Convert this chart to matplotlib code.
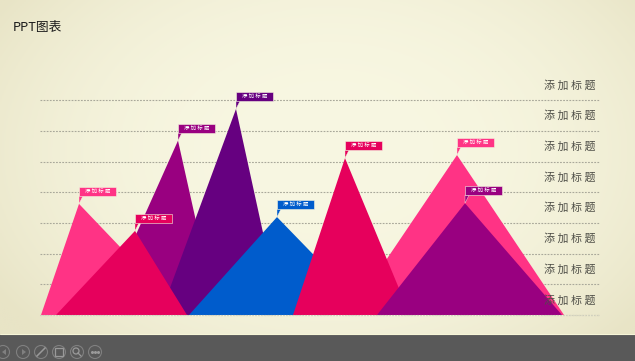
import numpy as np
import matplotlib
matplotlib.use('Agg')
import matplotlib.pyplot as plt
from matplotlib.patches import Circle, Polygon, Rectangle

plt.rcParams['font.family'] = ['Noto Sans CJK SC', 'DejaVu Sans']

PINK = '#FF3385'
CRIMSON = '#E6005C'
MAGENTA = '#990080'
PURPLE = '#660080'
BLUE = '#005CCC'

title = 'PPT图表'
row_labels = ['添 加 标 题'] * 8
flag_label = '添 加 标 题'
grid_levels = [0, 1, 2, 3, 4, 5, 6, 7]

# one entry per mountain, in draw order (x in px, height in grid levels)
left_x = [41, 100, 160, 56, 189, 349, 293, 377]
peak_x = [79, 178, 236, 135, 277, 457, 345, 465]
right_x = [185, 217, 281, 187, 372, 564, 410, 562]
peak_level = [3.62, 5.68, 6.71, 2.74, 3.19, 5.21, 5.11, 3.64]
colors = [PINK, MAGENTA, PURPLE, CRIMSON, BLUE, PINK, CRIMSON, MAGENTA]

LEVEL_PX = 30.7
BASE_PX = 315
W, H = 635, 361


def px_y(y):
    return (BASE_PX - y) / LEVEL_PX


fig = plt.figure(figsize=(6.35, 3.61), dpi=100)
ax = fig.add_axes([0, 0, 1, 1])
ax.set_xlim(0, W)
ax.set_ylim(px_y(H), px_y(0))
ax.axis('off')

# slide background, light in the middle and darker in the corners
yy, xx = np.mgrid[0:1:180j, 0:1:320j]
dist = np.clip(np.hypot((xx - 0.52) / 0.62, (yy - 0.42) / 0.75), 0, 1)
light = np.array([248, 247, 226]) / 255
dark = np.array([232, 228, 198]) / 255
bg = light + (dark - light)[None, None, :] * (dist[:, :, None] ** 2.5)
ax.imshow(bg, extent=(0, W, px_y(H), px_y(0)), aspect='auto', zorder=0)

ax.hlines(grid_levels, 40, 600, color='#a9a89a', linewidth=0.8,
          linestyle=(0, (1.6, 1.2)), zorder=1)

for i, c in enumerate(colors):
    ax.add_patch(Polygon([(left_x[i], 0), (peak_x[i], peak_level[i]),
                          (right_x[i], 0)], closed=True, facecolor=c,
                         edgecolor='none', zorder=2 + i * 0.1))
ax.hlines(0, 40, 600, color='#d8d7c4', linewidth=0.8,
          linestyle=(0, (1.6, 1.2)), zorder=3)

# small flags above the peaks
for i, c in enumerate(colors):
    x, y = peak_x[i], peak_level[i]
    if i == 7:
        x_box = x
    else:
        x_box = x
    top = y + 17 / LEVEL_PX
    bot = y + 8 / LEVEL_PX
    ax.add_patch(Polygon([(x_box, bot), (x_box, y), (x_box + 4, bot)],
                         closed=True, facecolor=c, edgecolor='#f6f4e0',
                         linewidth=0.3, zorder=4))
    ax.add_patch(Rectangle((x_box, bot), 37, top - bot, facecolor=c,
                           edgecolor='#f6f4e0', linewidth=0.4, zorder=4))
    ax.text(x_box + 18.5, (top + bot) / 2, flag_label, color='white',
            fontsize=3.9, ha='center', va='center', zorder=5)

for lev, lab in zip(grid_levels, row_labels):
    ax.text(596, lev + 15 / LEVEL_PX, lab, color='#4f4f48', fontsize=7.9,
            ha='right', va='center', zorder=6)

ax.text(13, px_y(28), title, color='#1c1c1c', fontsize=9.2, ha='left',
        va='center', zorder=6)

# player bar at the bottom of the slide
ax.add_patch(Rectangle((0, px_y(H)), W, px_y(334.5) - px_y(H),
                       facecolor='#595959', edgecolor='none', zorder=7))
ax.hlines(px_y(334), 0, W, color='#f7f6d8', linewidth=0.8, zorder=7)

ring = '#808080'
y_btn = px_y(352)
r = 6.5
sx = 1 / 1.0
for bx in [3, 23, 41, 59, 77, 95]:
    ax.add_patch(matplotlib.patches.Ellipse(
        (bx, y_btn), 2 * r, 2 * r / LEVEL_PX, facecolor='none',
        edgecolor=ring, linewidth=0.8, zorder=8))
ax.add_patch(Polygon([(2, y_btn), (6, y_btn + 3 / LEVEL_PX),
                      (6, y_btn - 3 / LEVEL_PX)], facecolor=ring, zorder=8))
ax.add_patch(Polygon([(26, y_btn), (22, y_btn + 3 / LEVEL_PX),
                      (22, y_btn - 3 / LEVEL_PX)], facecolor=ring, zorder=8))
ax.plot([37, 45], [y_btn - 4 / LEVEL_PX, y_btn + 4 / LEVEL_PX], color='#9a9a9a',
        linewidth=1.1, zorder=8)
ax.add_patch(Rectangle((55, y_btn - 4 / LEVEL_PX), 8, 8 / LEVEL_PX,
                       facecolor='none', edgecolor='#9a9a9a', linewidth=0.9,
                       zorder=8))
ax.add_patch(matplotlib.patches.Ellipse(
    (76, y_btn + 1 / LEVEL_PX), 6, 6 / LEVEL_PX, facecolor='none',
    edgecolor='#9a9a9a', linewidth=0.9, zorder=8))
ax.plot([78, 81], [y_btn - 1 / LEVEL_PX, y_btn - 4 / LEVEL_PX], color='#9a9a9a',
        linewidth=0.9, zorder=8)
ax.plot([92, 95, 98], [y_btn] * 3, linestyle='none', marker='o', markersize=1.2,
        color='#9a9a9a', zorder=8)

fig.savefig('out.png', dpi=100)
